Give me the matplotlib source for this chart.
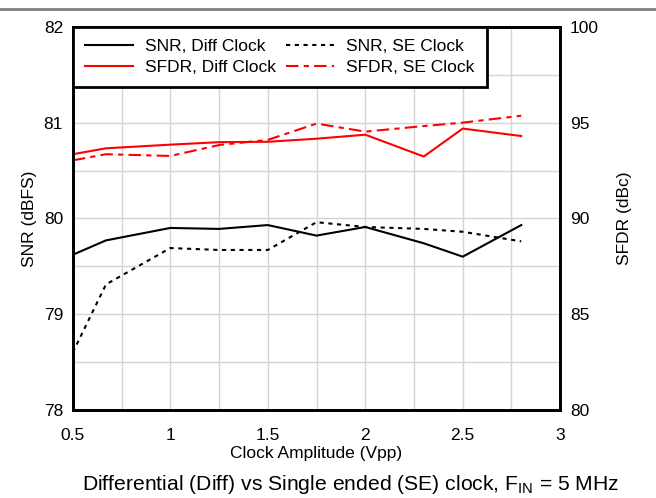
import matplotlib.pyplot as plt
from matplotlib.lines import Line2D

plt.rcParams['font.family'] = ['Liberation Sans', 'DejaVu Sans']

# === Data ===
clock_vpp = [0.5, 0.67, 1.0, 1.25, 1.5, 1.75, 2.0, 2.3, 2.5, 2.8]
snr_diff = [79.62, 79.77, 79.90, 79.89, 79.93, 79.82, 79.91, 79.74, 79.60, 79.93]
snr_se = [78.60, 79.31, 79.69, 79.67, 79.67, 79.96, 79.91, 79.89, 79.86, 79.76]
sfdr_diff = [93.35, 93.66, 93.85, 93.98, 94.00, 94.16, 94.37, 93.23, 94.69, 94.30]
sfdr_se = [93.03, 93.35, 93.26, 93.83, 94.10, 94.95, 94.53, 94.82, 95.00, 95.36]

x_ticks = [0.5, 1, 1.5, 2, 2.5, 3]
x_ticklabels = ["0.5", "1", "1.5", "2", "2.5", "3"]
snr_ticks = [78, 79, 80, 81, 82]
sfdr_ticks = [80, 85, 90, 95, 100]

# === Plot ===
fig = plt.figure(figsize=(6.56, 4.98), dpi=100)
ax1 = fig.add_axes([0.111, 0.177, 0.743, 0.769])
ax2 = ax1.twinx()

fs = 12.5
lw = 1.5
l1, = ax1.plot(clock_vpp, snr_diff, color="black", lw=lw, label="SNR, Diff Clock")
l2, = ax1.plot(clock_vpp, snr_se, color="black", lw=lw, dashes=(2, 2.2), label="SNR, SE Clock")
l3, = ax2.plot(clock_vpp, sfdr_diff, color="red", lw=lw, label="SFDR, Diff Clock")
l4, = ax2.plot(clock_vpp, sfdr_se, color="red", lw=lw, dashes=(6, 2.5, 2.5, 2.5), label="SFDR, SE Clock")

ax1.set_xlim(0.5, 3)
ax1.set_ylim(78, 82)
ax2.set_ylim(80, 100)

ax1.set_xticks(x_ticks)
ax1.set_xticklabels(x_ticklabels)
ax1.set_yticks(snr_ticks)
ax2.set_yticks(sfdr_ticks)

# grid every 0.25 V and 0.5 dB
ax1.set_xticks([0.75 + 0.5 * i for i in range(5)], minor=True)
ax1.set_yticks([78.5 + i for i in range(4)], minor=True)
ax1.grid(True, which="both", color="#d4d4d4", lw=1)
ax1.set_axisbelow(True)

for ax in (ax1, ax2):
    ax.tick_params(which="both", length=0, labelsize=fs)
    for sp in ax.spines.values():
        sp.set_linewidth(2)
        sp.set_color("black")
ax1.tick_params(axis="x", pad=13)
ax1.tick_params(axis="y", pad=7)
ax2.tick_params(axis="y", pad=7)

ax1.set_xlabel("Clock Amplitude (Vpp)", fontsize=fs, labelpad=2)
ax1.set_ylabel("SNR (dBFS)", fontsize=fs, labelpad=5)
ax2.set_ylabel("SFDR (dBc)", fontsize=fs, labelpad=13)

leg = ax2.legend(handles=[l1, l3, l2, l4], ncol=2, loc="upper left",
                 bbox_to_anchor=(0, 1), borderaxespad=0, fontsize=fs,
                 fancybox=False, framealpha=1, edgecolor="black",
                 handlelength=2.76, columnspacing=0.6, handletextpad=0.69,
                 labelspacing=0.32, borderpad=0.7)
leg.get_frame().set_linewidth(2)

# grey separator line at the top of the figure
fig.add_artist(Line2D([0, 1], [0.982, 0.982], color="#808080", lw=2, transform=fig.transFigure))

fig.text(0.535, 0.017, r"Differential (Diff) vs Single ended (SE) clock, F$_{\mathregular{IN}}$ = 5 MHz",
         ha="center", fontsize=15.2)

plt.savefig("out.png", dpi=100)
